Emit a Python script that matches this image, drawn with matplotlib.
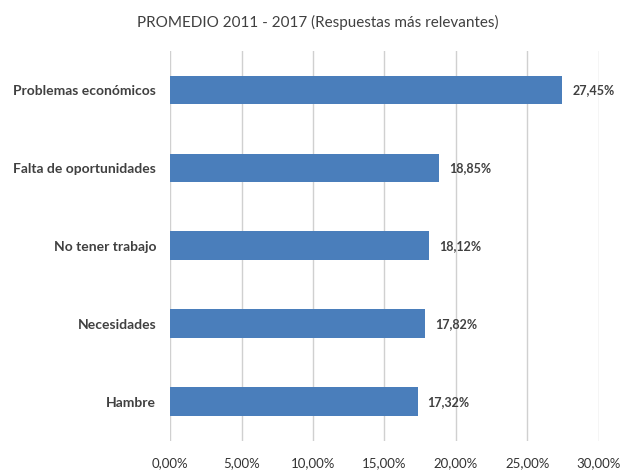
import matplotlib.pyplot as plt

categories = ["Problemas económicos", "Falta de oportunidades", "No tener trabajo",
              "Necesidades", "Hambre"]
values = [27.45, 18.85, 18.12, 17.82, 17.32]
value_labels = ["27,45%", "18,85%", "18,12%", "17,82%", "17,32%"]
xticks = [0, 5, 10, 15, 20, 25, 30]
xtick_labels = ["0,00%", "5,00%", "10,00%", "15,00%", "20,00%", "25,00%", "30,00%"]

plt.rcParams["font.family"] = ["Lato", "DejaVu Sans"]

fig = plt.figure(figsize=(6.35, 4.72), dpi=100)
ax = fig.add_axes([0.268, 0.066, 0.675, 0.826])

pos = list(range(len(categories)))
ax.barh(pos, values, height=0.37, color="#4a7ebb", zorder=3)
for p, v, lab in zip(pos, values, value_labels):
    ax.text(v + 0.7, p, lab, va="center", ha="left", fontsize=9,
            fontweight="bold", color="#404040")

ax.set_ylim(4.5, -0.5)
ax.set_xlim(0, 30)
ax.set_yticks(pos)
ax.set_yticklabels(categories, fontsize=10, fontweight="bold", color="#404040")
ax.set_xticks(xticks)
ax.set_xticklabels(xtick_labels, fontsize=9.5, color="#333333")
ax.tick_params(axis="both", length=0)
ax.tick_params(axis="x", pad=12)
ax.tick_params(axis="y", pad=10)
ax.grid(axis="x", color="#d0d0d0", linewidth=1, zorder=0)
for s in ax.spines.values():
    s.set_visible(False)

fig.text(0.5, 0.953, "PROMEDIO 2011 - 2017 (Respuestas más relevantes)",
         ha="center", va="center", fontsize=11, color="#404040")

fig.savefig("out.png", dpi=100)
